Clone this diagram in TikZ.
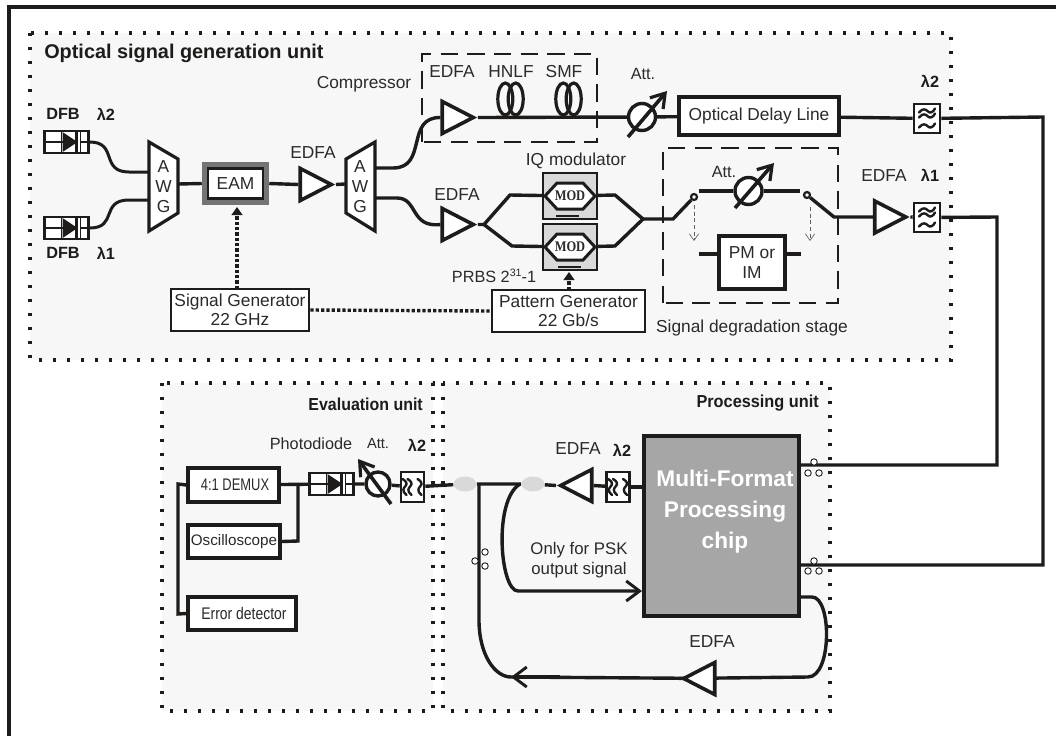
\documentclass[tikz,border=0pt]{standalone}
\usepackage{fontspec}
\setmainfont{Liberation Sans}
\newfontfamily\modfont{Liberation Serif}
\usetikzlibrary{shapes.geometric,arrows.meta,calc}
\definecolor{ink}{HTML}{1E1C1B}
\definecolor{unitbg}{HTML}{F7F7F7}
\definecolor{chipgrey}{HTML}{A6A6A6}
\definecolor{modgrey}{HTML}{D9D9D9}
\definecolor{txt}{HTML}{2A2A2A}
\pgfdeclarelayer{under}
\pgfsetlayers{under,main}
\tikzset{
  x=0.75pt,y=-0.75pt,
  lw/.style={line width=#1*0.75pt},
  unit/.style={fill=unitbg,draw=ink,lw=3.4,dash pattern=on 2.5pt off 8pt},
  dashbox/.style={draw=ink,lw=2.4,dash pattern=on 13pt off 7pt},
  fibre/.style={draw=ink,lw=3.4},
  thin fibre/.style={draw=ink,lw=3},
  dotline/.style={draw=ink,lw=3.4,dash pattern=on 2.4pt off 1.6pt},
  box/.style={draw=ink,lw=3,fill=white,inner sep=0pt,align=center,text=txt,font=\fontsize{13pt}{14.5pt}\selectfont},
  amp/.style={draw=ink,lw=3.6,fill=white,isosceles triangle,isosceles triangle stretches,inner sep=0pt,minimum width=32*0.75pt,minimum height=31*0.75pt},
  ampL/.style={amp,shape border rotate=180},
  lab/.style={text=txt,font=\fontsize{13pt}{15pt}\selectfont,inner sep=0pt,align=center},
  blab/.style={text=ink,font=\fontsize{13pt}{14pt}\selectfont\bfseries,inner sep=0pt},
  lam/.style={text=ink,font=\fontsize{12.2pt}{14pt}\selectfont\bfseries,inner sep=0pt},
  wave/.style={draw=ink,lw=2.4,line cap=round},
  grey arrow/.style={draw=ink!70,lw=0.9,dash pattern=on 3pt off 2pt,-{Straight Barb[length=5pt,width=7pt,line width=0.5pt]}},
  pc/.style={circle,draw=ink,lw=0.9,fill=white,minimum size=6.5*0.75pt,inner sep=0pt},
  swnode/.style={circle,draw=ink,lw=2.2,fill=white,minimum size=6*0.75pt,inner sep=0pt},
  coupler/.style={ellipse,draw=none,fill=modgrey,minimum width=23*0.75pt,minimum height=15*0.75pt,inner sep=0pt},
  oarrow/.style={-{Straight Barb[length=10pt,width=15pt,line width=2.2pt]}},
}
\newcommand{\diode}[3]{%
  \node[draw=ink,lw=2.6,fill=white,minimum width=44*0.75pt,minimum height=22*0.75pt,inner sep=0pt] (#1) at (#2,#3) {};
  \draw[ink,lw=1.6] (#2-22,#3)--(#2-4,#3) (#2+14,#3-11)--(#2+14,#3+11) (#2-5,#3-11)--(#2-5,#3+11) (#2+14,#3)--(#2+22,#3);
  \fill[ink] (#2-4,#3-10)--(#2+11,#3)--(#2-4,#3+10)--cycle;
  \draw[ink,lw=2.4] (#2+10,#3-10)--(#2+10,#3+10);
}
\newcommand{\filt}[6]{%
  \node[draw=ink,lw=2.6,fill=white,minimum width=#4*0.75pt,minimum height=#5*0.75pt,inner sep=0pt] (#1) at (#2,#3) {};
  \begin{scope}[shift={(#2,#3)},rotate=#6]
    \draw[wave] (-8,-6) .. controls (-4,-11) and (-1,-9) .. (1,-7) .. controls (3,-5) and (6,-6) .. (8,-10);
    \draw[wave] (-8,-1) .. controls (-4,-6) and (-1,-4) .. (1,-2) .. controls (3,0) and (6,-1) .. (8,-5);
    \draw[wave] (-8,9) .. controls (-4,4) and (-1,6) .. (1,8) .. controls (3,10) and (6,9) .. (8,5);
  \end{scope}
}
\newcommand{\atten}[8]{%
  \node[circle,draw=ink,lw=3.4,fill=white,minimum size=#4*2*0.75pt,inner sep=0pt] (#1) at (#2,#3) {};
  \draw[ink,lw=3.6,-{Straight Barb[length=10pt,width=13pt,line width=2.4pt]}] (#5,#6)--(#7,#8);
}
\newcommand{\coil}[2]{%
  \draw[ink,lw=3.2] (#1-5.2,#2) ellipse (7.5 and 16);
  \draw[ink,lw=3.2] (#1+5.2,#2) ellipse (7.5 and 16);
}
\newcommand{\modul}[5]{%
  \node[draw=ink,lw=2.6,fill=modgrey,minimum width=54*0.75pt,minimum height=46*0.75pt,inner sep=0pt] (#1) at (#2,#3) {};
  \draw[ink,lw=3,fill=white] (#2-25,#4)--(#2-13,#4-13)--(#2+13,#4-13)--(#2+25,#4)--(#2+13,#4+13)--(#2-13,#4+13)--cycle;
  \node[inner sep=0pt,text=txt,font=\modfont\fontsize{11pt}{12pt}\selectfont\bfseries,xscale=.85] (#1t) at (#2,#4) {MOD};
  \draw[ink,lw=2.6] (#5-11.5,#3+20)--(#5+11.5,#3+20);
}
\begin{document}
\begin{tikzpicture}
\useasboundingbox (0,0) rectangle (1056,736);

% junctions
\coordinate (aIn1) at (149,172);
\coordinate (aIn2) at (149,200);
\coordinate (aOut) at (178,184);
\coordinate (bIn) at (345,184);
\coordinate (bOut1) at (375,168);
\coordinate (bOut2) at (375,198);
\coordinate (split) at (484,224.5);
\coordinate (sU) at (510,195);
\coordinate (sD) at (512,246);
\coordinate (cU) at (615,195);
\coordinate (cD) at (615,246);
\coordinate (comb) at (643,219);
\coordinate (kneeA) at (673,219);
\coordinate (kneeB) at (834,217);
\coordinate (rA) at (1043,117);
\coordinate (rAb) at (1043,565);
\coordinate (rB) at (997,217);
\coordinate (rBb) at (997,465);
\coordinate (chipU) at (799,465);
\coordinate (chipM) at (799,565);
\coordinate (chipL) at (799,597);
\coordinate (chipP) at (642,591);
\coordinate (tapA) at (479,484);
\coordinate (tapB) at (520,484);
\coordinate (merge) at (511,677);
\coordinate (busT) at (178,484);
\coordinate (busB) at (178,614);
\coordinate (scT) at (298,484);
\coordinate (scB) at (298,541);
\coordinate (eamIn) at (237,207);
\coordinate (sgenOut) at (237,289);
\coordinate (modIn) at (569,272);
\coordinate (pgenOut) at (569,290);
\coordinate (pmLa) at (699,254);
\coordinate (pmLb) at (719,254);
\coordinate (pmRa) at (785,254);
\coordinate (pmRb) at (801,254);

% components
\diode{dfbb}{66.5}{142}
\diode{dfba}{66.5}{228}
\draw[ink,lw=3.2,fill=white] (149,142)--(178,159)--(178,213)--(149,231)--cycle;
\node[lab] (awgA) at (163.5,187) {A\\W\\G};
\draw[ink,lw=3.2,fill=white] (375,142)--(346,159)--(346,213)--(375,231)--cycle;
\node[lab] (awgB) at (360,187) {A\\W\\G};
\node[box,draw=chipgrey!70!black,lw=5.5,minimum width=62*0.75pt,minimum height=37*0.75pt] (eamo) at (235.5,183.5) {};
\node[box,lw=2.8,minimum width=55*0.75pt,minimum height=30*0.75pt] (eam) at (235.5,183.5) {EAM};
\node[amp] (ampA) at (310,184.5) {};
\node[amp] (ampB) at (452,117.5) {};
\node[amp] (ampC) at (452,224.5) {};
\node[amp] (ampD) at (884.5,217) {};
\node[ampL] (ampE) at (582,485.5) {};
\node[ampL] (ampF) at (705,678.5) {};
\coil{510.5}{99}
\coil{568.5}{99}
\atten{attA}{642}{117}{13.5}{628}{137}{667}{91}
\node[box,lw=3.6,minimum width=160*0.75pt,minimum height=38*0.75pt] (odl) at (759,116) {Optical Delay Line};
\filt{flA}{927}{118.5}{26}{29}{0}
\filt{flB}{927}{217.5}{26}{29}{0}
\modul{modA}{570}{196}{196}{567.5}
\modul{modB}{570}{247}{247}{569.5}
\node[swnode] (swA) at (694,197) {};
\node[swnode] (swB) at (807,195) {};
\atten{attB}{748.5}{191}{13.5}{735}{208}{774}{163}
\node[box,lw=3.6,minimum width=66*0.75pt,minimum height=53*0.75pt] (pm) at (752,262.5) {PM or\\IM};
\node[box,lw=2.8,minimum width=138*0.75pt,minimum height=42*0.75pt] (sgen) at (240,310) {Signal Generator\\22 GHz};
\node[box,lw=2.8,minimum width=153*0.75pt,minimum height=42*0.75pt] (pgen) at (568.5,311) {Pattern Generator\\22 Gb/s};
\node[box,lw=3.4,minimum width=91*0.75pt,minimum height=34*0.75pt] (demux) at (233.5,485) {};
\node[inner sep=0pt,text=txt,font=\fontsize{12.6pt}{13pt}\selectfont,xscale=.77] (demuxt) at (235,485) {4:1 DEMUX};
\node[box,lw=3.4,minimum width=92*0.75pt,minimum height=33*0.75pt,font=\fontsize{11.4pt}{13pt}\selectfont] (osc) at (234,541.5) {Oscilloscope};
\node[box,lw=3.4,minimum width=108*0.75pt,minimum height=33*0.75pt] (err) at (242,613.5) {};
\node[inner sep=0pt,text=txt,font=\fontsize{12.6pt}{13pt}\selectfont,xscale=.83] (errt) at (244,613.5) {Error detector};
\diode{pd}{331.5}{484}
\atten{attC}{378}{484}{12}{391}{504}{358}{459}
\filt{flC}{412.5}{487}{23}{30}{90}
\filt{flD}{618}{487}{23}{30}{90}
\node[coupler] (cpA) at (465,484) {};
\node[coupler] (cpB) at (533,484) {};
\node[box,lw=3.6,fill=chipgrey,text=white,minimum width=155*0.75pt,minimum height=180*0.75pt,inner sep=0pt] (chip) at (721.5,526) {};
\node[text=white,font=\fontsize{17pt}{23.2pt}\selectfont\bfseries,align=center,inner sep=0pt,anchor=north] (chipt) at (725,470) {Multi-Format\\Processing\\chip};
\foreach \n/\a/\b in {pa/814/462,pb/808/473,pc1/819/473,pd2/814/561,pe/808/571,pf/819/571,pg/485/552,ph/475/561,pi/485/566}{
  \node[pc] (\n) at (\a,\b) {};
}

% labels
\node[blab,anchor=west,font=\fontsize{14.9pt}{16pt}\selectfont\bfseries] (t1) at (44,53) {Optical signal generation unit};
\node[blab,anchor=east,xscale=.92] (t2) at (423,404) {Evaluation unit};
\node[blab,anchor=east,xscale=.94] (t3) at (819,403) {Processing unit};
\node[lam,anchor=west] (t4) at (46,114) {DFB};
\node[lam] (t5) at (106,114) {λ2};
\node[lam,anchor=west] (t6) at (46,253) {DFB};
\node[lam] (t7) at (106,253) {λ1};
\node[lab] (t8) at (313,153) {EDFA};
\node[lab] (t9) at (364,84) {Compressor};
\node[lab] (t10) at (452,72) {EDFA};
\node[lab] (t11) at (511,72) {HNLF};
\node[lab] (t12) at (564,72) {SMF};
\node[lab,font=\fontsize{12.2pt}{14pt}\selectfont] (t13) at (643,74) {Att.};
\node[lam] (t14) at (930,81) {λ2};
\node[lab] (t15) at (576,161) {IQ modulator};
\node[lab] (t16) at (457,195) {EDFA};
\node[lab,font=\fontsize{12.2pt}{14pt}\selectfont] (t17) at (724,172) {Att.};
\node[lab] (t18) at (884,176) {EDFA};
\node[lam] (t19) at (930,175) {λ1};
\node[lab] (t20) at (752,328) {Signal degradation stage};
\node[lab,font=\fontsize{12.2pt}{14pt}\selectfont] (t21) at (494,276) {PRBS 2\raisebox{5pt}{\fontsize{8pt}{8pt}\selectfont 31}-1};
\node[lab,font=\fontsize{12.2pt}{14pt}\selectfont] (t22) at (311,444) {Photodiode};
\node[lab,font=\fontsize{11pt}{13pt}\selectfont] (t23) at (378,444) {Att.};
\node[lam] (t24) at (417,445) {λ2};
\node[lab] (t25) at (578,449) {EDFA};
\node[lam] (t26) at (622,450) {λ2};
\node[lab,font=\fontsize{12.6pt}{15pt}\selectfont] (t27) at (579,560) {Only for PSK\\output signal};
\node[lab] (t28) at (712,642) {EDFA};

\begin{pgfonlayer}{under}
\fill[white] (0,0) rectangle (1056,736);
\draw[ink,lw=3.6] (8.8,736)--(8.8,6.8)--(1056,6.8);
\path[unit] (30,33) rectangle (951,360);
\path[unit] (162,383) rectangle (433,711);
\path[unit] (443,383) rectangle (830,711);
\path[dashbox] (422,142)--(422,54)--(597,54)--(597,142)--cycle;
\path[dashbox] (663,303)--(663,148)--(838,148)--(838,303)--cycle;

\draw[thin fibre] (dfbb.east) .. controls (118,142) and (100,172) .. (129,172)--(aIn1);
\draw[thin fibre] (dfba.east) .. controls (118,228) and (100,200) .. (129,200)--(aIn2);
\draw[fibre] (aOut)--(eamo.west) (eamo.east)--(ampA.west) (ampA.east)--(bIn);
\draw[fibre] (bOut1)--(393,168) .. controls (428,168) and (405,117) .. (ampB.west);
\draw[fibre] (bOut2)--(397,198) .. controls (418,198) and (410,228) .. (ampC.west);
\draw[fibre] (ampB.east)--(attA);
\draw[fibre] (attA)--(odl);
\draw[fibre] (ampC.east)--(split)--(sU)--(modA.center);
\draw[fibre] (split)--(sD)--(modB.center);
\draw[fibre] (modA.center)--(cU)--(comb)--(cD)--(modB.center);
\draw[fibre] (comb)--(kneeA)--(swA);
\draw[fibre] (odl)--(flA);
\draw[fibre] (flA)--(rA)--(rAb)--(chipM);
\draw[fibre] (swB)--(kneeB)--(ampD.west);
\draw[fibre] (ampD.east)--(flB);
\draw[fibre] (flB)--(rB)--(rBb)--(chipU);
\draw[fibre] (699,191)--(attB)--(800,191);
\draw[fibre] (pmLa)--(pmLb) (pmRa)--(pmRb);
\draw[fibre] (flD)--(chip.west|-flD);
\draw[fibre] (flD)--(ampE.east) (ampE.west)--(cpB);
\draw[fibre] (cpB)--(cpA) (cpA)--(flC);
\draw[fibre] (flC)--(attC) (attC)--(pd) (pd)--(demux);
\draw[fibre] (demux.west)--(busT)--(busB)--(err.west);
\draw[fibre] (osc.east)--(scB)--(scT);
\draw[fibre] (tapA)--(479,620) .. controls (479,655) and (495,677) .. (merge);
\draw[fibre] (ampF.east)--(merge);
\draw[fibre] (chipL)--(812,597) .. controls (832,597) and (832,677) .. (808,677)--(ampF.west);
\draw[dotline] (sgen.east)--(pgen.west);
\draw[grey arrow] (694,205)--(694,241);
\draw[grey arrow] (810,207)--(810,241);
\end{pgfonlayer}
\draw[fibre,oarrow] (tapB) .. controls (493,500) and (500,591) .. (518,591)--(chipP);
\draw[fibre,oarrow] (560,677)--(merge);
\draw[dotline,-{Triangle[length=6pt,width=8pt]}] (sgenOut)--(eamIn);
\draw[dotline,-{Triangle[length=6pt,width=8pt]}] (pgenOut)--(modIn);
\end{tikzpicture}
\end{document}
